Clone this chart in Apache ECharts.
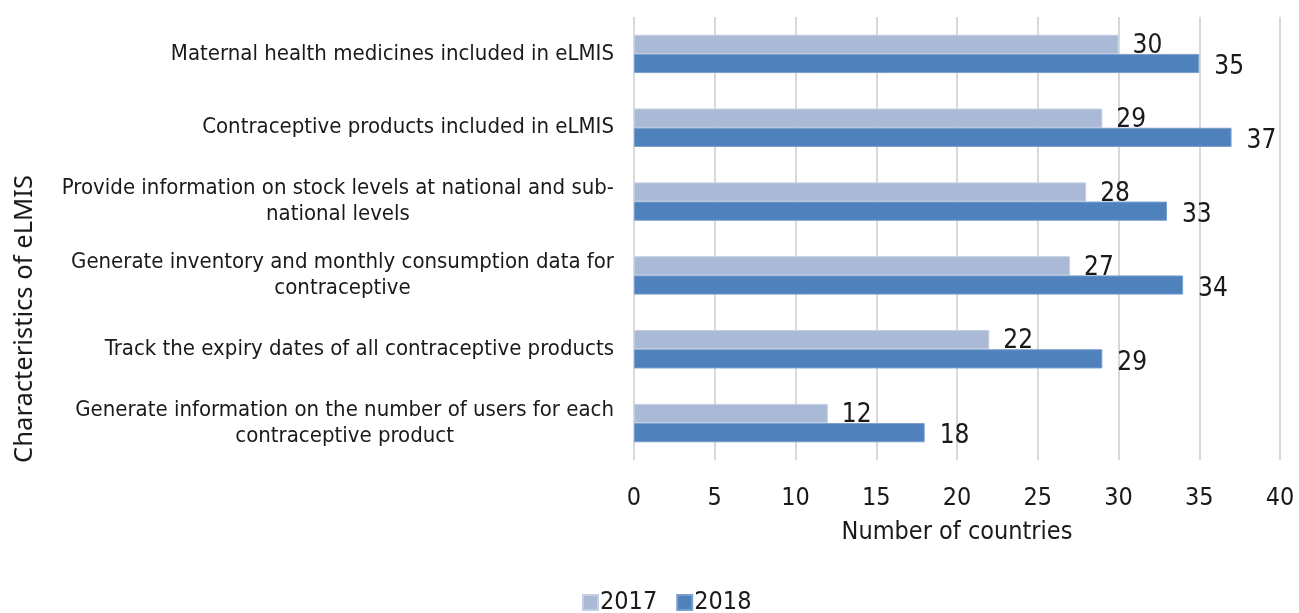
<!DOCTYPE html>
<html>
<head>
<meta charset="utf-8">
<script src="https://cdn.jsdelivr.net/npm/echarts@6/dist/echarts.min.js"></script>
<style>
  html, body { margin: 0; padding: 0; background: #fff; }
  #chart { width: 1299px; height: 613px; }
</style>
</head>
<body>
<div id="chart"></div>
<script>
// eLMIS characteristics reported by countries, 2017 vs 2018
const categories = [
  'Maternal health medicines included in eLMIS',
  'Contraceptive products included in eLMIS',
  'Provide information on stock levels at national and sub-\nnational levels',
  'Generate inventory and monthly consumption data for\ncontraceptive',
  'Track the expiry dates of all contraceptive products',
  'Generate information on the number of users for each\ncontraceptive product'
];
const values2017 = [30, 29, 28, 27, 22, 12];
const values2018 = [35, 37, 33, 34, 29, 18];
const seriesNames = ['2017', '2018'];
const xTicks = { min: 0, max: 40, interval: 5 };

const condensed = '"Liberation Sans Narrow", "DejaVu Sans Condensed", sans-serif';
const textColor = '#1a1a1a';

// multi-line labels: lines centred relative to each other, block right-aligned to the axis
function catLabel(s) {
  return s.split('\n').map(l => '{c|' + l + '}').join('\n');
}

const chart = echarts.init(document.getElementById('chart'));
chart.setOption({
  animation: false,
  grid: { left: 634, right: 19, top: 17, bottom: 153 },
  xAxis: {
    type: 'value',
    min: xTicks.min, max: xTicks.max, interval: xTicks.interval,
    axisLine: { show: false },
    axisTick: { show: false },
    splitLine: { lineStyle: { color: '#d9d9d9', width: 2 } },
    axisLabel: { color: textColor, fontFamily: condensed, fontSize: 25, margin: 26 },
    name: 'Number of countries',
    nameLocation: 'middle',
    nameGap: 60,
    nameTextStyle: { color: textColor, fontFamily: condensed, fontSize: 25 }
  },
  yAxis: {
    type: 'category',
    data: categories,
    inverse: true,
    axisLine: { show: false },
    axisTick: { show: false },
    axisLabel: {
      formatter: catLabel,
      margin: 20,
      color: textColor,
      fontFamily: condensed,
      fontSize: 22,
      lineHeight: 26,
      rich: { c: { align: 'center', fontFamily: condensed, fontSize: 22, lineHeight: 26, color: textColor } }
    }
  },
  legend: {
    top: 585,
    left: 577,
    itemWidth: 15,
    itemHeight: 15,
    itemGap: 19,
    icon: 'rect',
    textStyle: { color: textColor, fontFamily: condensed, fontSize: 25, padding: [0, 0, 0, -3] },
    data: seriesNames
  },
  graphic: [{
    type: 'text',
    left: 12,
    top: 175,
    rotation: Math.PI / 2,
    style: {
      text: 'Characteristics of eLMIS',
      fill: textColor,
      font: '25.6px "Noto Sans", sans-serif'
    }
  }],
  series: [
    {
      name: seriesNames[0],
      type: 'bar',
      data: values2017,
      barGap: '0%',
      barCategoryGap: '48%',
      itemStyle: { color: '#aab9d6', borderColor: '#c4cfe4', borderWidth: 1 },
      label: {
        show: true, position: 'right', distance: 14, offset: [0, 2],
        color: textColor, fontFamily: condensed, fontSize: 26
      }
    },
    {
      name: seriesNames[1],
      type: 'bar',
      data: values2018,
      barGap: '0%',
      barCategoryGap: '48%',
      itemStyle: { color: '#4f81bd', borderColor: '#7a9fcc', borderWidth: 1 },
      label: {
        show: true, position: 'right', distance: 15, offset: [0, 4],
        color: textColor, fontFamily: condensed, fontSize: 26
      }
    }
  ]
});
</script>
</body>
</html>
